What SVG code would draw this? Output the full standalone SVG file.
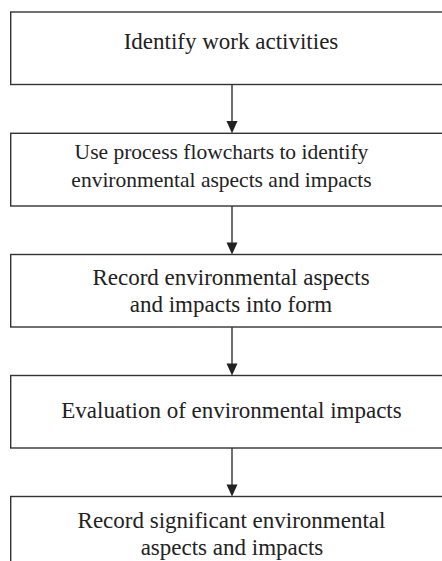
<svg xmlns="http://www.w3.org/2000/svg" width="442" height="561" viewBox="0 0 442 561">
<style>
.box{fill:#fff;stroke:#333;stroke-width:1.4}
.t{font-family:"Liberation Serif","Times New Roman",serif;font-size:23px;fill:#222;text-anchor:middle}
.s{font-size:21.5px}
.c{stroke:#333;stroke-width:1.4;fill:none}
.h{fill:#222}
</style>
<rect width="442" height="561" fill="#fff"/>
<g id="n1"><rect class="box" x="10.7" y="12" width="450" height="72.5"/><text class="t" x="231" y="48.5">Identify work activities</text></g>
<g id="n2"><rect class="box" x="10.7" y="133.3" width="450" height="72.7"/><text class="t s" x="221.5" y="159">Use process flowcharts to identify</text><text class="t s" x="221.5" y="187">environmental aspects and impacts</text></g>
<g id="n3"><rect class="box" x="10.7" y="254.5" width="450" height="72.5"/><text class="t" x="231" y="285">Record environmental aspects</text><text class="t" x="231" y="311.5">and impacts into form</text></g>
<g id="n4"><rect class="box" x="10.7" y="375.5" width="450" height="72.5"/><text class="t" x="231.5" y="418">Evaluation of environmental impacts</text></g>
<g id="n5"><rect class="box" x="10.7" y="496.5" width="450" height="90"/><text class="t" x="231.5" y="528.3">Record significant environmental</text><text class="t" x="232" y="555">aspects and impacts</text></g>
<g id="connectors">
<line class="c" x1="232" y1="84.5" x2="232" y2="122"/><polygon class="h" points="226.5,121 237.5,121 232,133.3"/>
<line class="c" x1="232" y1="206" x2="232" y2="243"/><polygon class="h" points="226.5,242.5 237.5,242.5 232,254.5"/>
<line class="c" x1="232" y1="327" x2="232" y2="364"/><polygon class="h" points="226.5,363.5 237.5,363.5 232,375.5"/>
<line class="c" x1="232" y1="448" x2="232" y2="485"/><polygon class="h" points="226.5,484.5 237.5,484.5 232,496.5"/>
</g>
</svg>
